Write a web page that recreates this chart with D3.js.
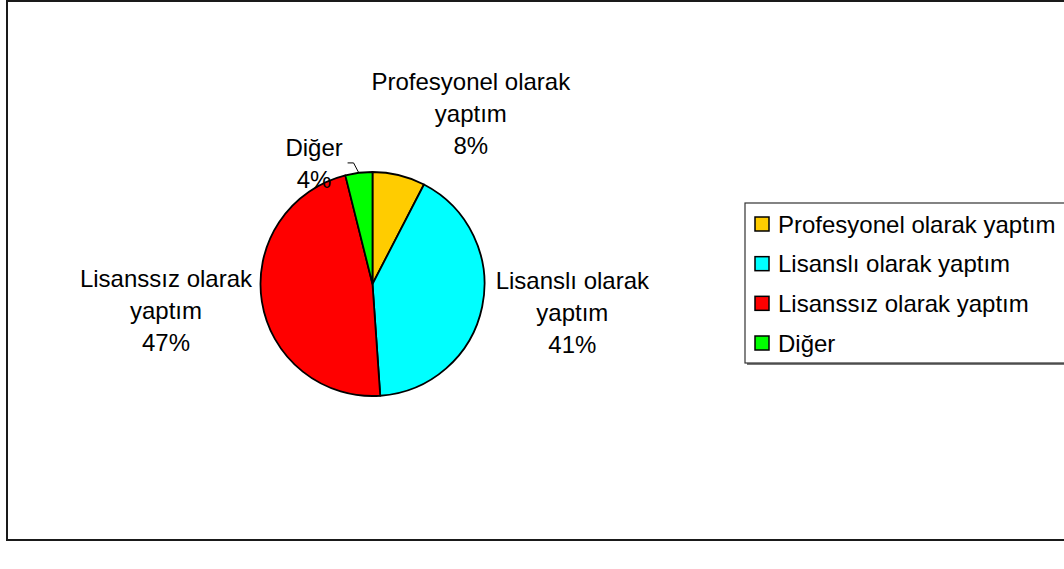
<!DOCTYPE html>
<html lang="tr">
<head>
    <meta charset="UTF-8">
    <title>Pie</title>
    <script src="https://d3js.org/d3.v7.min.js"></script>
</head>
<style>
    body { margin: 0; background: #fff; }
    text { font-family: "Liberation Sans", Arial, sans-serif; fill: #000; }
</style>
<body>
<div class="chart"></div>
<script>
    // data
    var categories = ["Profesyonel olarak yaptım", "Lisanslı olarak yaptım", "Lisanssız olarak yaptım", "Diğer"];
    var values = [7.6, 41.3, 47.2, 3.9];
    var colors = ["#FFCC00", "#00FFFF", "#FF0000", "#00FF00"];

    var width = 1064, height = 569;
    var cx = 372.5, cy = 284, radius = 112;

    var svg = d3.select(".chart").append("svg")
        .attr("width", width)
        .attr("height", height);

    // outer frame
    svg.append("rect")
        .attr("x", 7).attr("y", 1)
        .attr("width", 1080).attr("height", 539)
        .attr("fill", "none")
        .attr("stroke", "#1a1a1a")
        .attr("stroke-width", 2);

    var total = d3.sum(values);
    var rows = categories.map(function (c, i) {
        return { name: c, value: values[i], color: colors[i] };
    });

    var pie = d3.pie().sort(null).value(function (d) { return d.value; });
    var arc = d3.arc().innerRadius(0).outerRadius(radius);

    var g = svg.append("g").attr("transform", "translate(" + cx + "," + cy + ")");

    var slices = pie(rows);

    g.selectAll("path.slice")
        .data(slices)
        .enter().append("path")
        .attr("class", "slice")
        .attr("d", arc)
        .attr("fill", function (d) { return d.data.color; })
        .attr("stroke", "#000")
        .attr("stroke-width", 1.8)
        .attr("stroke-linejoin", "round");

    // labels sit on a circle around the pie, nudged like excel does it
    var labelR = 200;
    var nudge = [[51, 24], [4, -12], [-9, -4], [-34, 78]];
    var lineH = 32;

    function midPoint(d, r) {
        var a = (d.startAngle + d.endAngle) / 2;
        return [Math.sin(a) * r, -Math.cos(a) * r];
    }

    slices.forEach(function (d, i) {
        var p = midPoint(d, labelR);
        var x = p[0] + nudge[i][0], y = p[1] + nudge[i][1];
        var name = d.data.name;
        var lines;
        var k = name.lastIndexOf(" ");
        if (k > 0) lines = [name.slice(0, k), name.slice(k + 1)];
        else lines = [name];
        lines.push(Math.round(d.data.value / total * 100) + "%");

        var t = g.append("text")
            .attr("text-anchor", "middle")
            .style("font-size", "24px");
        lines.forEach(function (s, j) {
            t.append("tspan")
                .attr("x", x)
                .attr("y", y + (j - (lines.length - 1) / 2) * lineH + 8)
                .text(s);
        });

        // small leader for the thin slice
        if (d.endAngle - d.startAngle < 0.3) {
            var p1 = midPoint(d, radius);
            var p2 = midPoint(d, radius + 10);
            g.append("path")
                .attr("d", "M" + p1[0] + "," + p1[1] + "L" + (p2[0] - 4) + "," + p2[1] + "L" + (p2[0] - 10) + "," + p2[1])
                .attr("fill", "none")
                .attr("stroke", "#000")
                .attr("stroke-width", 1);
        }
    });

    // legend
    var lg = svg.append("g");
    lg.append("rect")
        .attr("x", 747).attr("y", 205)
        .attr("width", 340).attr("height", 160)
        .attr("fill", "#777");
    lg.append("rect")
        .attr("x", 745).attr("y", 203)
        .attr("width", 340).attr("height", 160)
        .attr("fill", "#fff")
        .attr("stroke", "#333")
        .attr("stroke-width", 1.2);

    var ly = d3.scalePoint().domain(categories).range([224, 343]);

    var item = lg.selectAll("g.item")
        .data(rows)
        .enter().append("g")
        .attr("class", "item")
        .attr("transform", function (d) { return "translate(0," + ly(d.name) + ")"; });

    item.append("rect")
        .attr("x", 755).attr("y", -7)
        .attr("width", 14).attr("height", 14)
        .attr("fill", function (d) { return d.color; })
        .attr("stroke", "#000")
        .attr("stroke-width", 1.5);

    item.append("text")
        .attr("x", 778).attr("y", 8.5)
        .style("font-size", "24px")
        .text(function (d) { return d.name; });
</script>
</body>
</html>
